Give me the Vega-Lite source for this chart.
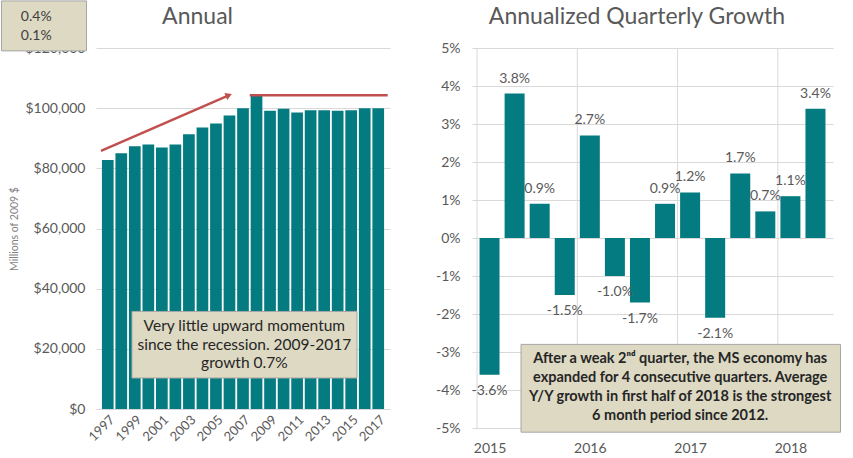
{
  "$schema": "https://vega.github.io/schema/vega-lite/v6.json",
  "background": "white",
  "padding": 0,
  "bounds": "flush",
  "spacing": 82,
  "config": {
    "view": {"stroke": null},
    "font": "Lato",
    "locale": {"number": {"decimal": ".", "thousands": ",", "grouping": [3], "currency": ["$", ""], "minus": "-"}},
    "axis": {"labelColor": "#595959", "labelFont": "Lato", "labelFontSize": 14, "gridColor": "#D9D9D9", "ticks": false, "labelOverlap": false}
  },
  "datasets": {
    "annual": [
      {"year": 1997, "value": 82800},
      {"year": 1998, "value": 85050},
      {"year": 1999, "value": 87370},
      {"year": 2000, "value": 87900},
      {"year": 2001, "value": 86900},
      {"year": 2002, "value": 87900},
      {"year": 2003, "value": 91360},
      {"year": 2004, "value": 93560},
      {"year": 2005, "value": 94900},
      {"year": 2006, "value": 97540},
      {"year": 2007, "value": 100000},
      {"year": 2008, "value": 104100},
      {"year": 2009, "value": 99100},
      {"year": 2010, "value": 99770},
      {"year": 2011, "value": 98540},
      {"year": 2012, "value": 99330},
      {"year": 2013, "value": 99330},
      {"year": 2014, "value": 99100},
      {"year": 2015, "value": 99330},
      {"year": 2016, "value": 100000},
      {"year": 2017, "value": 100000}
    ],
    "quarterly": [
      {"t": 2015.0, "quarter": "2015 Q1", "v": -0.036},
      {"t": 2015.25, "quarter": "2015 Q2", "v": 0.038},
      {"t": 2015.5, "quarter": "2015 Q3", "v": 0.009},
      {"t": 2015.75, "quarter": "2015 Q4", "v": -0.015},
      {"t": 2016.0, "quarter": "2016 Q1", "v": 0.027},
      {"t": 2016.25, "quarter": "2016 Q2", "v": -0.010},
      {"t": 2016.5, "quarter": "2016 Q3", "v": -0.017},
      {"t": 2016.75, "quarter": "2016 Q4", "v": 0.009},
      {"t": 2017.0, "quarter": "2017 Q1", "v": 0.012},
      {"t": 2017.25, "quarter": "2017 Q2", "v": -0.021},
      {"t": 2017.5, "quarter": "2017 Q3", "v": 0.017},
      {"t": 2017.75, "quarter": "2017 Q4", "v": 0.007},
      {"t": 2018.0, "quarter": "2018 Q1", "v": 0.011},
      {"t": 2018.25, "quarter": "2018 Q2", "v": 0.034}
    ]
  },
  "hconcat": [
    {
      "width": 294,
      "height": 361,
      "layer": [
        {
          "data": {"name": "annual"},
          "mark": {"type": "bar", "size": 11.7, "color": "#047B80"},
          "encoding": {
            "x": {"field": "year", "type": "quantitative",
                  "scale": {"domain": [1996.5, 2017.5], "nice": false, "zero": false},
                  "axis": {"values": [1997, 1999, 2001, 2003, 2005, 2007, 2009, 2011, 2013, 2015, 2017], "tickCount": 30, "format": "d", "labelAngle": -45, "labelFontSize": 13, "labelOverlap": false, "grid": false, "domain": true, "domainColor": "#D9D9D9", "labelPadding": 4, "title": null}},
            "y": {"field": "value", "type": "quantitative",
                  "scale": {"domain": [0, 120000], "nice": false},
                  "axis": {"values": [0, 20000, 40000, 60000, 80000, 100000, 120000], "tickCount": 30, "format": "$,.0f", "labelOverlap": false, "domain": false, "labelPadding": 11, "title": "Millions of 2009 $", "titleFontSize": 10.5, "titleFontWeight": "normal", "titleColor": "#7F7F7F", "titlePadding": 5}}
          }
        },
        {
          "data": {"values": [{"x": 2003.64, "y": 128000, "label": "Annual"}]},
          "mark": {"type": "text", "fontSize": 23, "color": "#595959", "align": "center", "baseline": "alphabetic"},
          "encoding": {"x": {"field": "x", "type": "quantitative"}, "y": {"field": "y", "type": "quantitative"}, "text": {"field": "label"}}
        },
        {
          "data": {"values": [{"x": 1996.5, "y": 85800}, {"x": 2005.9, "y": 104200}]},
          "mark": {"type": "line", "color": "#C0504D", "strokeWidth": 2.5},
          "encoding": {"x": {"field": "x", "type": "quantitative"}, "y": {"field": "y", "type": "quantitative"}}
        },
        {
          "data": {"values": [{"x": 2005.95, "y": 104300}]},
          "mark": {"type": "point", "shape": "triangle-right", "angle": -22.5, "filled": true, "color": "#C0504D", "size": 55, "opacity": 1},
          "encoding": {"x": {"field": "x", "type": "quantitative"}, "y": {"field": "y", "type": "quantitative"}}
        },
        {
          "data": {"values": [{"x": 2007.5, "x2": 2017.7, "y": 104300}]},
          "mark": {"type": "rule", "color": "#C0504D", "strokeWidth": 2.5},
          "encoding": {"x": {"field": "x", "type": "quantitative"}, "x2": {"field": "x2"}, "y": {"field": "y", "type": "quantitative"}}
        },
        {
          "data": {"values": [{"x": 1998.79, "x2": 2015.43, "y": 32430, "y2": 10300}]},
          "mark": {"type": "rect", "fill": "#DDD9C3", "stroke": "#A6A6A6", "strokeWidth": 1},
          "encoding": {"x": {"field": "x", "type": "quantitative"}, "x2": {"field": "x2"}, "y": {"field": "y", "type": "quantitative"}, "y2": {"field": "y2"}}
        },
        {
          "data": {"values": [
            {"x": 2007.1, "y": 27670, "label": "Very little upward momentum"},
            {"x": 2007.1, "y": 21360, "label": "since the recession. 2009-2017"},
            {"x": 2007.1, "y": 15150, "label": "growth 0.7%"}
          ]},
          "mark": {"type": "text", "fontSize": 15.5, "color": "#262626", "align": "center", "baseline": "middle"},
          "encoding": {"x": {"field": "x", "type": "quantitative"}, "y": {"field": "y", "type": "quantitative"}, "text": {"field": "label"}}
        },
        {
          "data": {"values": [{"x": 1989.14, "x2": 1995.43, "y": 135650, "y2": 119040}]},
          "mark": {"type": "rect", "fill": "#DDD9C3", "stroke": "#A6A6A6", "strokeWidth": 1},
          "encoding": {"x": {"field": "x", "type": "quantitative"}, "x2": {"field": "x2"}, "y": {"field": "y", "type": "quantitative"}, "y2": {"field": "y2"}}
        },
        {
          "data": {"values": [{"x": 1991.71, "y": 130430, "label": "0.4%"}, {"x": 1991.71, "y": 124020, "label": "0.1%"}]},
          "mark": {"type": "text", "fontSize": 14, "color": "#404040", "align": "center", "baseline": "middle"},
          "encoding": {"x": {"field": "x", "type": "quantitative"}, "y": {"field": "y", "type": "quantitative"}, "text": {"field": "label"}}
        }
      ]
    },
    {
      "width": 361,
      "height": 380,
      "layer": [
        {
          "data": {"values": [{"x": 2014.875}, {"x": 2015.875}, {"x": 2016.875}, {"x": 2017.875}]},
          "mark": {"type": "rule", "color": "#D9D9D9", "strokeWidth": 1},
          "encoding": {"x": {"field": "x", "type": "quantitative"}}
        },
        {
          "data": {"name": "quarterly"},
          "mark": {"type": "bar", "size": 20, "color": "#047B80"},
          "encoding": {
            "x": {"field": "t", "type": "quantitative",
                  "scale": {"domain": [2014.875, 2018.375], "nice": false, "zero": false},
                  "axis": {"values": [2015, 2016, 2017, 2018], "tickCount": 30, "format": "d", "labelAngle": 0, "labelOverlap": false, "grid": false, "domain": false, "labelPadding": 13, "title": null}},
            "y": {"field": "v", "type": "quantitative",
                  "scale": {"domain": [-0.05, 0.05], "nice": false},
                  "axis": {"values": [-0.05, -0.04, -0.03, -0.02, -0.01, 0, 0.01, 0.02, 0.03, 0.04, 0.05], "tickCount": 30, "format": ".0%", "labelOverlap": false, "domain": false, "labelPadding": 12, "title": null}}
          }
        },
        {
          "data": {"values": [{"x": 2016.47, "y": 0.05624, "label": "Annualized Quarterly Growth"}]},
          "mark": {"type": "text", "fontSize": 23, "color": "#595959", "align": "center", "baseline": "alphabetic"},
          "encoding": {"x": {"field": "x", "type": "quantitative"}, "y": {"field": "y", "type": "quantitative"}, "text": {"field": "label"}}
        },
        {
          "data": {"name": "quarterly"},
          "transform": [{"filter": "datum.v >= 0"}],
          "mark": {"type": "text", "fontSize": 14, "color": "#595959", "dy": -15, "baseline": "middle"},
          "encoding": {"x": {"field": "t", "type": "quantitative"}, "y": {"field": "v", "type": "quantitative"}, "text": {"field": "v", "format": ".1%"}}
        },
        {
          "data": {"name": "quarterly"},
          "transform": [{"filter": "datum.v < 0"}],
          "mark": {"type": "text", "fontSize": 14, "color": "#595959", "dy": 16, "baseline": "middle"},
          "encoding": {"x": {"field": "t", "type": "quantitative"}, "y": {"field": "v", "type": "quantitative"}, "text": {"field": "v", "format": ".1%"}}
        },
        {
          "data": {"values": [{"x": 2015.314, "x2": 2018.5, "y": -0.028, "y2": -0.0511}]},
          "mark": {"type": "rect", "fill": "#DDD9C3", "stroke": "#A6A6A6", "strokeWidth": 1},
          "encoding": {"x": {"field": "x", "type": "quantitative"}, "x2": {"field": "x2"}, "y": {"field": "y", "type": "quantitative"}, "y2": {"field": "y2"}}
        },
        {
          "data": {"values": [
            {"x": 2016.901, "y": -0.03192, "label": "After a weak 2ⁿᵈ quarter, the MS economy has"},
            {"x": 2016.901, "y": -0.03676, "label": "expanded for 4 consecutive quarters. Average"},
            {"x": 2016.901, "y": -0.04176, "label": "Y/Y growth in first half of 2018 is the strongest"},
            {"x": 2016.901, "y": -0.04679, "label": "6 month period since 2012."}
          ]},
          "mark": {"type": "text", "fontSize": 14.5, "fontWeight": "bold", "color": "#262626", "align": "center", "baseline": "middle"},
          "encoding": {"x": {"field": "x", "type": "quantitative"}, "y": {"field": "y", "type": "quantitative"}, "text": {"field": "label"}}
        }
      ]
    }
  ]
}
